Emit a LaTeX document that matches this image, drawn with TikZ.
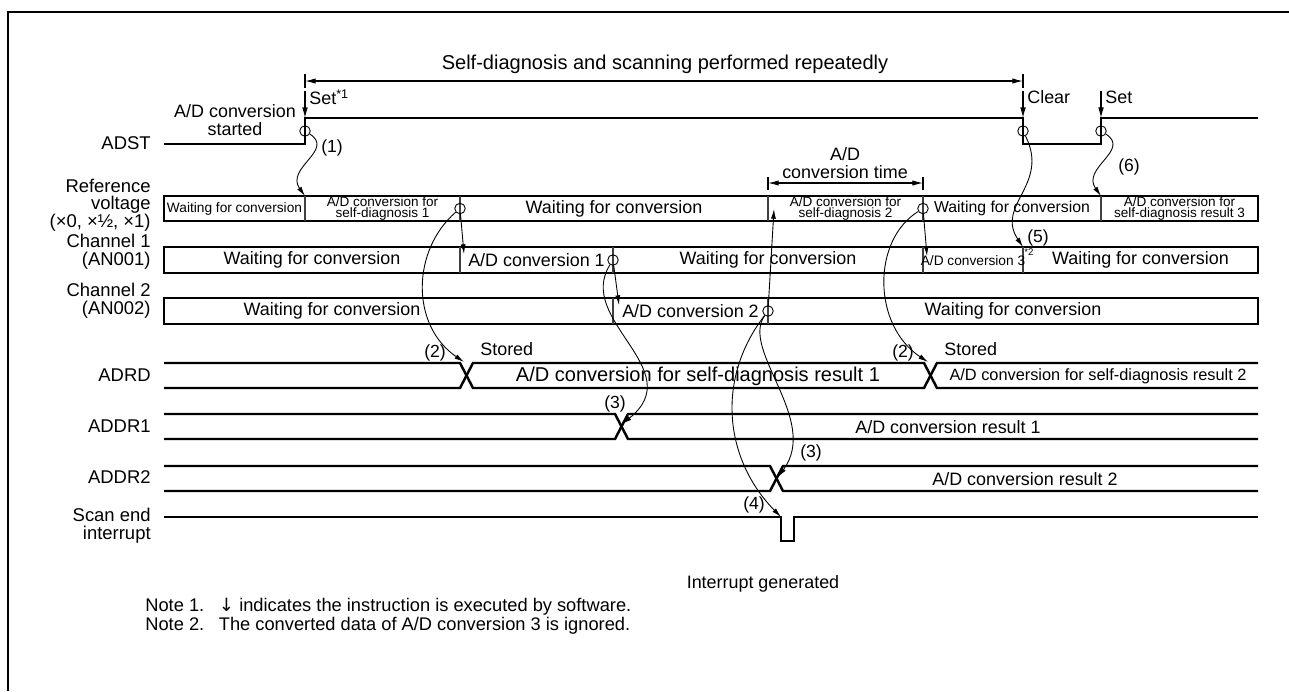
\documentclass[tikz,border=0pt]{standalone}
\usepackage{fontspec}
\setmainfont{Liberation Sans}
\newfontfamily\arrowfont{DejaVu Sans}
\usetikzlibrary{arrows.meta}

\begin{document}
\begin{tikzpicture}[
    x=0.02cm, y=-0.02cm,
    sigLabel/.style={anchor=east, align=right, inner sep=0pt, font=\fontsize{10.5}{10}\selectfont},
    plainText/.style={inner sep=0pt, font=\fontsize{10.2}{10}\selectfont},
    cellBig/.style={inner sep=0pt, font=\fontsize{10.2}{11}\selectfont},
    cellMid/.style={inner sep=0pt, font=\fontsize{9}{10}\selectfont},
    cellSmall/.style={inner sep=0pt, font=\fontsize{7.8}{8}\selectfont},
    cellTiny/.style={inner sep=0pt, align=center, font=\fontsize{7.7}{6.2}\selectfont},
    stepNum/.style={inner sep=0pt, font=\fontsize{10}{11}\selectfont},
    waveLine/.style={line width=1.4pt},
    rowBox/.style={draw, line width=1.4pt},
    cellSep/.style={line width=0.6pt, draw=black!75},
    markCircle/.style={circle, draw, line width=0.5pt, minimum size=0.21cm, inner sep=0pt},
    flowArrow/.style={line width=0.5pt, -{Latex[length=5.5pt, width=2.8pt]}},
    setArrow/.style={line width=0.6pt, -{Latex[length=6pt, width=3.2pt]}},
    dimArrow/.style={line width=0.6pt, {Latex[length=6pt, width=3pt]}-{Latex[length=6pt, width=3pt]}},
]
\useasboundingbox (0,0) rectangle (1289,691);
\draw[line width=1.4pt] (8,691) -- (8,12) -- (1289,12);

% span of the repeated scanning
\node[font=\fontsize{11.4}{13}\selectfont, inner sep=0pt] (title) at (665,64) {Self-diagnosis and scanning performed repeatedly};
\draw[line width=0.6pt] (305,74) -- (305,88) (1023,74) -- (1023,88);
\draw[dimArrow] (305,81) -- (1023,81);

% signal names
\node[sigLabel] (lblAdst) at (151,143) {ADST};
\node[sigLabel] (lblRef) at (151,205) {Reference\\voltage\\(×0, ×½, ×1)};
\node[sigLabel] (lblCh1) at (151,252) {Channel 1\\(AN001)};
\node[sigLabel] (lblCh2) at (151,301) {Channel 2\\(AN002)};
\node[sigLabel] (lblAdrd) at (151,375) {ADRD};
\node[sigLabel] (lblAddr1) at (151,426) {ADDR1};
\node[sigLabel] (lblAddr2) at (151,477) {ADDR2};
\node[sigLabel] (lblScan) at (151,526) {Scan end\\interrupt};

% ADST
\draw[waveLine] (164,144) -- (305,144) -- (305,118) -- (1023,118) -- (1023,144) -- (1101,144) -- (1101,118) -- (1258,118);
\node[plainText, align=center] (adStart) at (235,120) {A/D conversion\\started};
\node[plainText, anchor=west] (setFirst) at (309,97) {Set\textsuperscript{*1}};
\node[plainText, anchor=west] (clearLbl) at (1027,97) {Clear};
\node[plainText, anchor=west] (setAgain) at (1105,97) {Set};
\coordinate (swA) at (305,91);
\coordinate (swB) at (1023,91);
\coordinate (swC) at (1101,91);
\coordinate (edgeA) at (305,118);
\coordinate (edgeB) at (1023,118);
\coordinate (edgeC) at (1101,118);
\draw[setArrow] (swA) -- (edgeA);
\draw[setArrow] (swB) -- (edgeB);
\draw[setArrow] (swC) -- (edgeC);
\node[markCircle] (cStart) at (305,131) {};
\node[markCircle] (cClear) at (1023,131) {};
\node[markCircle] (cSet) at (1101,131) {};

% reference voltage
\draw[rowBox] (164,196) rectangle (1258,221);
\foreach \x in {305,460,768,923,1101}
    \draw[cellSep] (\x,196) -- (\x,221);
\node[cellSmall] (refWaitA) at (234.5,208.5) {Waiting for conversion};
\node[cellTiny] (refDiagA) at (382.5,208.5) {A/D conversion for\\self-diagnosis 1};
\node[cellBig] (refWaitB) at (614,208.5) {Waiting for conversion};
\node[cellTiny] (refDiagB) at (845.5,208.5) {A/D conversion for\\self-diagnosis 2};
\node[cellMid] (refWaitC) at (1012,208.5) {Waiting for conversion};
\node[cellTiny] (refDiagC) at (1179.5,208.5) {A/D conversion for\\self-diagnosis result 3};

% conversion time
\draw[line width=0.6pt] (768,177) -- (768,190) (923,177) -- (923,190);
\draw[dimArrow] (768,183) -- (923,183);
\node[plainText, align=center] (convTime) at (845,163) {A/D\\conversion time};

% channel 1
\draw[rowBox] (164,247) rectangle (1258,273);
\foreach \x in {460,613,923,1023}
    \draw[cellSep] (\x,247) -- (\x,273);
\node[cellBig] (ch1WaitA) at (312,260) {Waiting for conversion};
\node[cellBig] (ch1Conv) at (536.5,260) {A/D conversion 1};
\node[cellBig] (ch1WaitB) at (768,260) {Waiting for conversion};
\node[cellSmall] (ch1Third) at (973,261) {A/D conversion 3};
\node[inner sep=0pt, anchor=west, font=\fontsize{5.5}{6}\selectfont] (ch1Mark) at (1024,252) {*2};
\node[cellBig] (ch1WaitC) at (1140.5,260) {Waiting for conversion};

% channel 2
\draw[rowBox] (164,298) rectangle (1258,324);
\foreach \x in {613,768}
    \draw[cellSep] (\x,298) -- (\x,324);
\node[cellBig] (ch2WaitA) at (332,311) {Waiting for conversion};
\node[cellBig] (ch2Conv) at (690.5,311) {A/D conversion 2};
\node[cellBig] (ch2WaitB) at (1013,311) {Waiting for conversion};

% ADRD, ADDR1, ADDR2
\draw[waveLine] (164,363) -- (460,363) -- (473,388) -- (924,388) -- (937,363) -- (1258,363);
\draw[waveLine] (164,388) -- (460,388) -- (473,363) -- (924,363) -- (937,388) -- (1258,388);
\node[inner sep=0pt, font=\fontsize{11.4}{13}\selectfont] (adrdA) at (698,376) {A/D conversion for self-diagnosis result 1};
\node[inner sep=0pt, font=\fontsize{9.3}{10}\selectfont] (adrdB) at (1098,376) {A/D conversion for self-diagnosis result 2};
\node[plainText, anchor=west] (storedA) at (480,349) {Stored};
\node[plainText, anchor=west] (storedB) at (944,349) {Stored};

\draw[waveLine] (164,414) -- (615,414) -- (628,439) -- (1258,439);
\draw[waveLine] (164,439) -- (615,439) -- (628,414) -- (1258,414);
\node[cellBig] (addr1Val) at (948,427) {A/D conversion result 1};

\draw[waveLine] (164,466) -- (770,466) -- (783,491) -- (1258,491);
\draw[waveLine] (164,491) -- (770,491) -- (783,466) -- (1258,466);
\node[cellBig] (addr2Val) at (1025,479) {A/D conversion result 2};

% scan end interrupt
\draw[waveLine] (164,517) -- (781,517) -- (781,541) -- (794,541) -- (794,517) -- (1258,517);
\node[plainText] (irqText) at (763,584) {Interrupt generated};

% points of the sequence
\node[markCircle] (cRefA) at (460,208.5) {};
\node[markCircle] (cCh1) at (613,260) {};
\node[markCircle] (cCh2) at (768,311) {};
\node[markCircle] (cRefB) at (923,208.5) {};
\coordinate (refSplit) at (305,196);
\coordinate (refResume) at (1101,196);
\coordinate (ch1Stop) at (1023,247);
\coordinate (ch1Go) at (464,254);
\coordinate (ch2Go) at (619,305);
\coordinate (refGo) at (774,209);
\coordinate (ch1GoAgain) at (927,256);
\coordinate (adrdX) at (464,362);
\coordinate (adrdXB) at (928,362);
\coordinate (addr1X) at (622,424);
\coordinate (addr2X) at (778,477);
\coordinate (irqEdge) at (781,517);

\draw[flowArrow] (cStart) .. controls (335,150) and (285,168) .. (refSplit);
\draw[flowArrow] (cSet) .. controls (1131,150) and (1081,168) .. (refResume);
\draw[flowArrow] (cClear) .. controls (1050,185) and (995,205) .. (ch1Stop);
\draw[flowArrow] (cRefA) -- (ch1Go);
\draw[flowArrow] (cRefA) .. controls (412,250) and (410,325) .. (adrdX);
\draw[flowArrow] (cCh1) -- (ch2Go);
\draw[flowArrow] (cCh1) .. controls (575,320) and (690,370) .. (addr1X);
\draw[flowArrow] (cCh2) -- (refGo);
\draw[flowArrow] (cCh2) .. controls (740,350) and (820,420) .. (addr2X);
\draw[flowArrow] (cCh2) .. controls (715,380) and (725,460) .. (irqEdge);
\draw[flowArrow] (cRefB) -- (ch1GoAgain);
\draw[flowArrow] (cRefB) .. controls (872,240) and (872,325) .. (adrdXB);

\node[stepNum] (n1) at (332,148) {(1)};
\node[stepNum] (n2a) at (435,353) {(2)};
\node[stepNum] (n2b) at (903,353) {(2)};
\node[stepNum] (n3a) at (615,404) {(3)};
\node[stepNum] (n3b) at (811,453) {(3)};
\node[stepNum] (n4) at (754,505) {(4)};
\node[stepNum] (n5) at (1038,238) {(5)};
\node[stepNum] (n6) at (1129,167) {(6)};

% notes
\node[anchor=west, align=left, inner sep=0pt, font=\fontsize{10.4}{10.8}\selectfont] (notes) at (145,616)
    {Note 1.\hspace{0.8em}{\arrowfont ↓} indicates the instruction is executed by software.\\
     Note 2.\hspace{0.8em}The converted data of A/D conversion 3 is ignored.};
\end{tikzpicture}
\end{document}
